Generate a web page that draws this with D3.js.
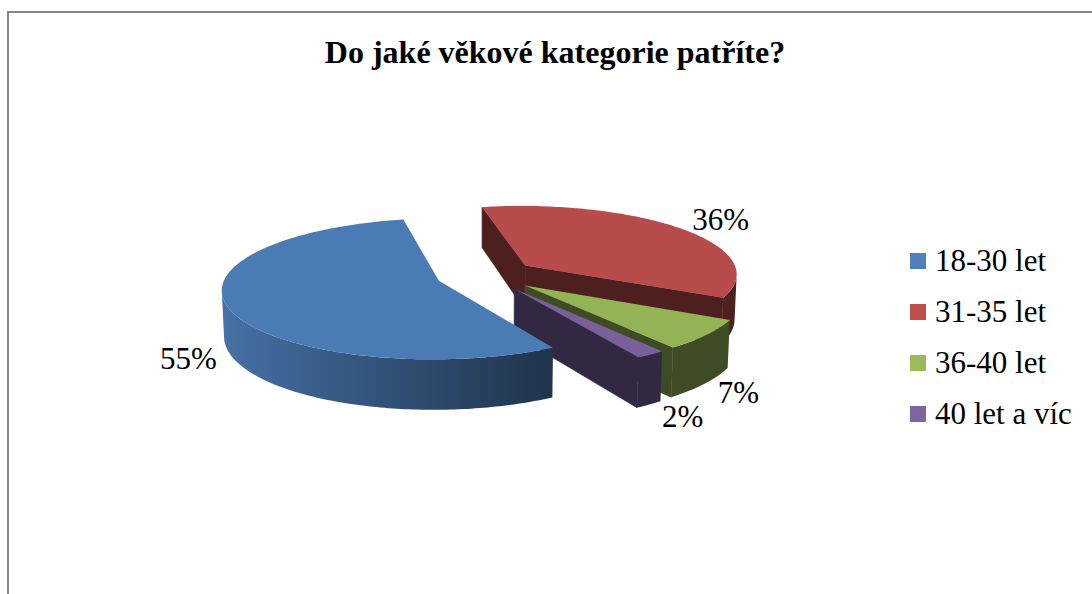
<!DOCTYPE html>
<html>
<head>
<meta charset="utf-8">
<script src="https://cdn.jsdelivr.net/npm/d3@7"></script>
<style>
  html, body { margin: 0; padding: 0; background: #fff; overflow: hidden; }
</style>
</head>
<body>
<svg id="chart" width="1092" height="594"></svg>
<script>
// Survey answers: age groups of respondents (share in %)
const title = "Do jaké věkové kategorie patříte?";
const categories = ["18-30 let", "31-35 let", "36-40 let", "40 let a víc"];
const values = [55, 36, 7, 2];
const seriesColors = ["#4F81BD", "#C0504D", "#9BBB59", "#8064A2"];

const font = "'Liberation Serif', 'Times New Roman', serif";
const svg = d3.select("#chart");
const defs = svg.append("defs");

// chart frame
svg.append("rect")
  .attr("x", 8).attr("y", 12)
  .attr("width", 1200).attr("height", 700)
  .attr("fill", "#fff")
  .attr("stroke", "#878787")
  .attr("stroke-width", 2);

svg.append("text")
  .attr("x", 555).attr("y", 63)
  .attr("text-anchor", "middle")
  .attr("font-family", font)
  .attr("font-weight", "bold")
  .attr("font-size", 32)
  .text(title);

// ---- 3D exploded pie ----
const cx = 486, cy = 275;          // screen position of the pie centre
const R = 213, T = 48;             // radius and thickness (world units)
const explode = 50;                // distance each slice is pulled out
const tilt = 18.7 * Math.PI / 180; // camera elevation
const D = 1790;                    // camera distance (perspective)
const camera = [0, D * Math.sin(tilt), -D * Math.cos(tilt)];

// world: x right, y up, z away from the viewer
function project(x, y, z) {
  const vy = y * Math.cos(tilt) + z * Math.sin(tilt);
  const vz = z * Math.cos(tilt) - y * Math.sin(tilt);
  const s = D / (D + vz);
  return [cx + x * s, cy - vy * s];
}
function facing(n, p) {
  return n[0] * (camera[0] - p[0]) + n[1] * (camera[1] - p[1]) + n[2] * (camera[2] - p[2]) > 0;
}
function shade(c, f) {
  const r = d3.rgb(c);
  return d3.rgb(r.r * f, r.g * f, r.b * f).formatHex();
}
const line = d3.line();
const poly = pts => line(pts.map(p => project(p[0], p[1], p[2]))) + "Z";

const startAngle = 150 * Math.PI / 180;
const pie = d3.pie().sort(null)
  .startAngle(startAngle)
  .endAngle(startAngle + 2 * Math.PI);
const arcs = pie(values);

const step = Math.PI / 180;
const slices = arcs.map((a, i) => {
  const mid = (a.startAngle + a.endAngle) / 2;
  const ox = explode * Math.sin(mid), oz = explode * Math.cos(mid);
  const n = Math.max(2, Math.ceil((a.endAngle - a.startAngle) / step));
  const angles = d3.range(n + 1).map(k => a.startAngle + (a.endAngle - a.startAngle) * k / n);
  const rim = angles.map(t => [ox + R * Math.sin(t), oz + R * Math.cos(t)]);
  const minZ = Math.min(oz, ...rim.map(p => p[1]));
  return { i, a, mid, ox, oz, angles, rim, minZ, color: seriesColors[i] };
});

// brightness of the curved side wall by its facing direction
function wallLight(t) {
  return Math.max(0.40, Math.min(0.9, 0.40 + 0.333 * (0.5 - Math.sin(t))));
}

const pieG = svg.append("g");
slices.slice().sort((p, q) => q.minZ - p.minZ).forEach(s => {
  const g = pieG.append("g");
  const wallColor = shade(s.color, 0.40);
  const a0 = s.a.startAngle, a1 = s.a.endAngle;
  const r0 = s.rim[0], r1 = s.rim[s.rim.length - 1];

  // flat cut walls
  const walls = [
    { n: [-Math.cos(a0), 0, Math.sin(a0)], p: r0 },
    { n: [Math.cos(a1), 0, -Math.sin(a1)], p: r1 }
  ];
  walls.forEach(w => {
    const c = [(s.ox + w.p[0]) / 2, -T / 2, (s.oz + w.p[1]) / 2];
    if (!facing(w.n, c)) return;
    g.append("path")
      .attr("d", poly([[s.ox, 0, s.oz], [w.p[0], 0, w.p[1]], [w.p[0], -T, w.p[1]], [s.ox, -T, s.oz]]))
      .attr("fill", wallColor)
      .attr("stroke", wallColor).attr("stroke-width", 0.6);
  });

  // curved outer wall: runs of segments that face the camera
  const vis = d3.range(s.rim.length - 1).map(k => {
    const tm = (s.angles[k] + s.angles[k + 1]) / 2;
    const n = [Math.sin(tm), 0, Math.cos(tm)];
    return facing(n, [s.ox + R * n[0], -T / 2, s.oz + R * n[2]]);
  });
  const runs = [];
  vis.forEach((v, k) => {
    if (!v) return;
    if (runs.length && runs[runs.length - 1].end === k) runs[runs.length - 1].end = k + 1;
    else runs.push({ start: k, end: k + 1 });
  });
  runs.forEach((run, ri) => {
    const idx = d3.range(run.start, run.end + 1);
    const topPts = idx.map(k => [s.rim[k][0], 0, s.rim[k][1]]);
    const botPts = idx.map(k => [s.rim[k][0], -T, s.rim[k][1]]).reverse();
    const xs = idx.map(k => project(s.rim[k][0], -T / 2, s.rim[k][1])[0]);
    const x1 = xs[0], x2 = xs[xs.length - 1];
    const gid = `wall-${s.i}-${ri}`;
    const grad = defs.append("linearGradient")
      .attr("id", gid)
      .attr("gradientUnits", "userSpaceOnUse")
      .attr("x1", x1).attr("y1", 0).attr("x2", x2 === x1 ? x1 + 1 : x2).attr("y2", 0);
    let last = 0;
    idx.forEach((k, j) => {
      const t = s.angles[k];
      let off = x2 === x1 ? 0 : (xs[j] - x1) / (x2 - x1);
      off = Math.max(last, Math.min(1, off));
      last = off;
      grad.append("stop").attr("offset", off).attr("stop-color", shade(s.color, wallLight(t)));
    });
    const col = `url(#${gid})`;
    g.append("path")
      .attr("d", poly([...topPts, ...botPts]))
      .attr("fill", col);
  });

  // top face
  const top = [[s.ox, 0, s.oz], ...s.rim.map(p => [p[0], 0, p[1]])];
  g.append("path")
    .attr("d", poly(top))
    .attr("fill", shade(s.color, 0.955));
});

// percentage labels outside each slice
const total = d3.sum(values);
const fmt = d3.format(".0%");
slices.forEach(s => {
  const sn = Math.sin(s.mid), cs = Math.cos(s.mid);
  const y = cs < 0 ? -T : 0;
  const [ax, ay] = project(s.ox + R * sn, y, s.oz + R * cs);
  const t = svg.append("text")
    .attr("font-family", font)
    .attr("font-size", 31)
    .attr("text-anchor", "middle")
    .text(fmt(values[s.i] / total));
  const w = t.node().getComputedTextLength();
  t.attr("x", ax + Math.sign(sn) * (w / 2 + 13))
   .attr("y", ay - cs * 14 + 10.5);
});

// legend
const legend = svg.append("g").attr("transform", "translate(910,271)");
categories.forEach((c, i) => {
  const row = legend.append("g").attr("transform", `translate(0,${i * 51})`);
  row.append("rect")
    .attr("x", 0).attr("y", -18)
    .attr("width", 16).attr("height", 16)
    .attr("fill", seriesColors[i]);
  row.append("text")
    .attr("x", 25).attr("y", 0)
    .attr("font-family", font)
    .attr("font-size", 31)
    .text(c);
});
</script>
</body>
</html>
